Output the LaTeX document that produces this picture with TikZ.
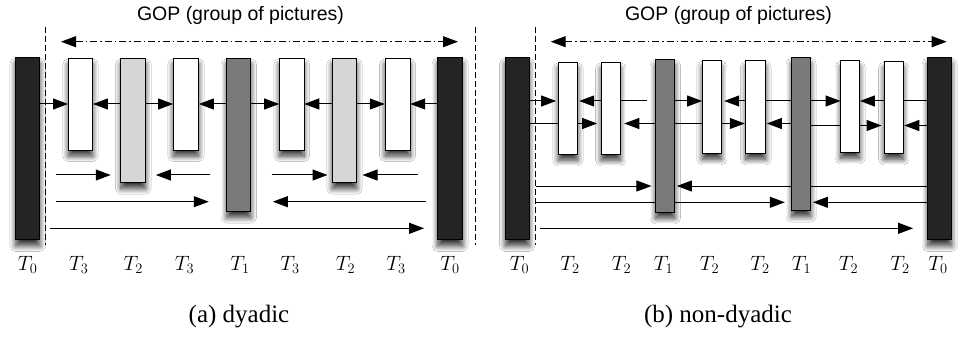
\documentclass[tikz,border=0pt]{standalone}
\usepackage{fontspec}
\setmainfont{Liberation Serif}
\newfontfamily\gopfont{Liberation Sans}
\usetikzlibrary{arrows.meta,shadows.blur}
\tikzset{
  box/.style={draw=black,line width=1pt,inner sep=0pt,rectangle,
    blur shadow={shadow xshift=0pt,shadow yshift=-6pt,shadow blur radius=5.5pt,shadow blur steps=14,shadow opacity=80}},
  kbar/.style={box,fill=black!86,minimum width=24.5pt,minimum height=182.3pt},
  wbar/.style={box,fill=white},
  lbar/.style={box,fill=black!16},
  dbar/.style={box,fill=black!52},
  slot/.style={inner sep=0pt,rectangle},
  arr/.style={line width=1pt,-{Triangle[length=15pt,width=11pt]}},
  gop/.style={line width=1pt,dash pattern=on 7pt off 3pt on 1.5pt off 3pt,{Triangle[length=15pt,width=11pt]}-{Triangle[length=15pt,width=11pt]}},
  sep/.style={line width=1pt,dash pattern=on 6pt off 3pt},
  lab/.style={font=\fontsize{20}{24}\selectfont,inner sep=0pt},
  captext/.style={font=\fontsize{25}{30}\selectfont,inner sep=0pt},
  goptext/.style={font=\gopfont\fontsize{19.5}{23}\selectfont,inner sep=0pt}
}
\begin{document}
\begin{tikzpicture}[x=1pt,y=-1pt]
\useasboundingbox[fill=white] (0,0) rectangle (960,339);
% level coordinates
\coordinate (ya) at (0,104);
\coordinate (yb) at (0,175);
\coordinate (yc) at (0,201.7);
\coordinate (yd) at (0,228.3);
\coordinate (ra) at (0,101);
\coordinate (rb) at (0,123.5);
\coordinate (rb2) at (0,125.5);
\coordinate (rc) at (0,186);
\coordinate (rd) at (0,202.3);
\coordinate (re) at (0,228.3);

% ===== node slots =====
\path
  (27.7,148.8) node[slot,minimum width=24.5pt,minimum height=182.3pt] (L0) {}
  (80.5,104.2) node[slot,minimum width=24.4pt,minimum height=91.7pt] (L1) {}
  (133.3,120.5) node[slot,minimum width=24.7pt,minimum height=124.4pt] (L2) {}
  (186,104.2) node[slot,minimum width=25.4pt,minimum height=91.7pt] (L3) {}
  (238.8,135) node[slot,minimum width=24.3pt,minimum height=153.4pt] (L4) {}
  (291.7,104.2) node[slot,minimum width=24.7pt,minimum height=91.7pt] (L5) {}
  (344.5,120.5) node[slot,minimum width=24.4pt,minimum height=124.4pt] (L6) {}
  (397.5,104.2) node[slot,minimum width=25pt,minimum height=91.7pt] (L7) {}
  (450.2,148.8) node[slot,minimum width=25pt,minimum height=182.3pt] (L8) {};
\path
  (517.2,148.8) node[slot,minimum width=24.3pt,minimum height=182.3pt] (R0) {}
  (568,108.3) node[slot,minimum width=19.4pt,minimum height=92pt] (R1) {}
  (610.7,108.3) node[slot,minimum width=19.3pt,minimum height=92pt] (R2) {}
  (665.3,135.8) node[slot,minimum width=19.3pt,minimum height=153pt] (R3) {}
  (711.8,107) node[slot,minimum width=19pt,minimum height=92.6pt] (R4) {}
  (755.8,107) node[slot,minimum width=19.7pt,minimum height=92.6pt] (R5) {}
  (801.2,134.2) node[slot,minimum width=19pt,minimum height=153pt] (R6) {}
  (850.2,106.5) node[slot,minimum width=19pt,minimum height=91.6pt] (R7) {}
  (893.7,107.5) node[slot,minimum width=19.3pt,minimum height=91.6pt] (R8) {}
  (939.7,148.8) node[slot,minimum width=24pt,minimum height=182.3pt] (R9) {};

% ===== arrows (left) =====
\draw[arr] (L0.east |- ya) -- (L1.west |- ya);
\draw[arr] (L2.west |- ya) -- (L1.east |- ya);
\draw[arr] (L2.east |- ya) -- (L3.west |- ya);
\draw[arr] (L4.west |- ya) -- (L3.east |- ya);
\draw[arr] (L4.east |- ya) -- (L5.west |- ya);
\draw[arr] (L6.west |- ya) -- (L5.east |- ya);
\draw[arr] (L6.east |- ya) -- (L7.west |- ya);
\draw[arr] (L8.west |- ya) -- (L7.east |- ya);
\draw[arr] ([xshift=16pt]L0.east |- yb) -- ([xshift=-10pt]L2.west |- yb);
\draw[arr] ([xshift=-16pt]L4.west |- yb) -- ([xshift=10pt]L2.east |- yb);
\draw[arr] ([xshift=20.7pt]L4.east |- yb) -- ([xshift=-4.6pt]L6.west |- yb);
\draw[arr] ([xshift=-20pt]L8.west |- yb) -- ([xshift=5.6pt]L6.east |- yb);
\draw[arr] ([xshift=16pt]L0.east |- yc) -- ([xshift=-17.7pt]L4.west |- yc);
\draw[arr] ([xshift=-11.7pt]L8.west |- yc) -- ([xshift=21.7pt]L4.east |- yc);
\draw[arr] ([xshift=10pt]L0.east |- yd) -- ([xshift=-13.4pt]L8.west |- yd);

% ===== arrows (right) =====
\draw[arr] (R0.east |- ra) -- ([xshift=-2pt]R1.west |- ra);
\draw[arr] ([xshift=-8pt]R3.west |- ra) -- ([xshift=1.3pt]R1.east |- ra);
\draw[arr] (R3.east |- ra) -- (R4.west |- ra);
\draw[arr] (R6.west |- ra) -- ([xshift=2.7pt]R4.east |- ra);
\draw[arr] (R6.east |- ra) -- (R7.west |- ra);
\draw[arr] (R9.west |- ra) -- (R7.east |- ra);
\draw[arr] (R0.east |- rb) -- ([xshift=-3.7pt]R2.west |- rb);
\draw[arr] (R3.west |- rb) -- ([xshift=3.7pt]R2.east |- rb);
\draw[arr] (R3.east |- rb) -- ([xshift=-1pt]R5.west |- rb);
\draw[arr] (R6.west |- rb) -- ([xshift=1pt]R5.east |- rb);
\draw[arr] (R6.east |- rb2) -- ([xshift=-2.3pt]R8.west |- rb2);
\draw[arr] (R9.west |- rb2) -- ([xshift=0.7pt]R8.east |- rb2);
\draw[arr] ([xshift=6.7pt]R0.east |- rc) -- ([xshift=-4pt]R3.west |- rc);
\draw[arr] (R9.west |- rc) -- ([xshift=1.7pt]R3.east |- rc);
\draw[arr] ([xshift=6.7pt]R0.east |- rd) -- ([xshift=-6.7pt]R6.west |- rd);
\draw[arr] (R9.west |- rd) -- ([xshift=2pt]R6.east |- rd);
\draw[arr] ([xshift=10.7pt]R0.east |- re) -- ([xshift=-14.4pt]R9.west |- re);

% ===== bars (drawn over arrows) =====
\node[kbar] at (L0) {};
\node[wbar,minimum width=24.4pt,minimum height=91.7pt] at (L1) {};
\node[lbar,minimum width=24.7pt,minimum height=124.4pt] at (L2) {};
\node[wbar,minimum width=25.4pt,minimum height=91.7pt] at (L3) {};
\node[dbar,minimum width=24.3pt,minimum height=153.4pt] at (L4) {};
\node[wbar,minimum width=24.7pt,minimum height=91.7pt] at (L5) {};
\node[lbar,minimum width=24.4pt,minimum height=124.4pt] at (L6) {};
\node[wbar,minimum width=25pt,minimum height=91.7pt] at (L7) {};
\node[kbar,minimum width=25pt] at (L8) {};
\node[kbar,minimum width=24.3pt] at (R0) {};
\node[wbar,minimum width=19.4pt,minimum height=92pt] at (R1) {};
\node[wbar,minimum width=19.3pt,minimum height=92pt] at (R2) {};
\node[dbar,minimum width=19.3pt,minimum height=153pt] at (R3) {};
\node[wbar,minimum width=19pt,minimum height=92.6pt] at (R4) {};
\node[wbar,minimum width=19.7pt,minimum height=92.6pt] at (R5) {};
\node[dbar,minimum width=19pt,minimum height=153pt] at (R6) {};
\node[wbar,minimum width=19pt,minimum height=91.6pt] at (R7) {};
\node[wbar,minimum width=19.3pt,minimum height=91.6pt] at (R8) {};
\node[kbar,minimum width=24pt] at (R9) {};

% ===== separators and GOP =====
\coordinate (s1t) at (45.7,27); \coordinate (s1b) at (45.7,245);
\coordinate (s2t) at (475,27); \coordinate (s2b) at (475,245);
\coordinate (s3t) at (535.7,27); \coordinate (s3b) at (535.7,245);
\draw[sep] (s1t) -- (s1b);
\draw[sep] (s2t) -- (s2b);
\draw[sep] (s3t) -- (s3b);
\coordinate (g1a) at (61,41.7); \coordinate (g1b) at (458,41.7);
\coordinate (g2a) at (550.7,41.7); \coordinate (g2b) at (946.7,41.7);
\draw[gop] (g1a) -- (g1b);
\draw[gop] (g2a) -- (g2b);
\node[goptext] (gt1) at (240.5,15) {GOP (group of pictures)};
\node[goptext] (gt2) at (728.5,15) {GOP (group of pictures)};

% ===== labels =====
\foreach \x/\t [count=\i] in {27.6/0,78.8/3,133.3/2,184.5/3,240/1,290/3,345.5/2,396/3,450/0,
  519.5/0,570/2,621.5/2,663.5/1,709.5/2,760/2,801.5/1,848.5/2,900/2,938/0}
  \node[lab] (lb\i) at (\x,265) {$T_{\t}$};
\node[captext] (capa) at (239,317) {(a) dyadic};
\node[captext] (capb) at (718,317) {(b) non-dyadic};
\end{tikzpicture}
\end{document}
